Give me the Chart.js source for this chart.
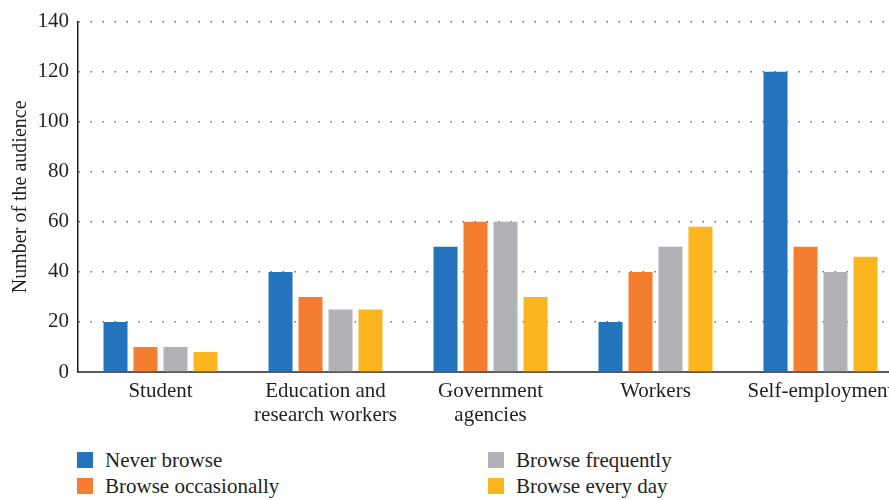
<html lang="en">
<head>
  <meta charset="utf-8">
  <script src="https://cdn.jsdelivr.net/npm/chart.js@4/dist/chart.umd.min.js"></script>
  <style>
    body { margin: 0; overflow: hidden; background: #fff; width: 889px; height: 500px; }
    #wrap { position: absolute; left: 0; top: 0; width: 903px; height: 432px; }
    .leg { position: absolute; font-family: "Liberation Serif", "Times New Roman", "DejaVu Serif", serif; font-size: 21px; color: #231f20; line-height: 20px; white-space: nowrap; }
    .leg span { position: absolute; left: 0; top: 0px; width: 16px; height: 16px; }
    .leg div { position: absolute; left: 28px; top: -2px; }
  </style>
</head>
<body>
  <div id="wrap"><canvas id="chart"></canvas></div>
  <div id="legend"></div>

<script>
  var categories = [
    'Student',
    ['Education and', 'research workers'],
    ['Government', 'agencies'],
    'Workers',
    'Self-employment'
  ];
  var seriesNames = ['Never browse', 'Browse occasionally', 'Browse frequently', 'Browse every day'];
  var seriesColors = ['#2473bd', '#f47d30', '#b1b2b5', '#fdb51f'];
  var neverBrowse = [20, 40, 50, 20, 120];
  var browseOccasionally = [10, 30, 60, 40, 50];
  var browseFrequently = [10, 25, 60, 50, 40];
  var browseEveryDay = [8, 25, 30, 58, 46];
  var yTicks = [0, 20, 40, 60, 80, 100, 120, 140];

  var seriesValues = [neverBrowse, browseOccasionally, browseFrequently, browseEveryDay];
  var fontFamily = '"Liberation Serif", "Times New Roman", "DejaVu Serif", serif';
  var textColor = '#231f20';

  // legend in two columns, column-major like the original
  var legendPos = [[77, 452], [77, 478], [488, 452], [488, 478]];
  var legendEl = document.getElementById('legend');
  seriesNames.forEach(function(name, i) {
    var item = document.createElement('div');
    item.className = 'leg';
    item.style.left = legendPos[i][0] + 'px';
    item.style.top = legendPos[i][1] + 'px';
    item.innerHTML = '<span style="background:' + seriesColors[i] + '"></span><div>' + name + '</div>';
    legendEl.appendChild(item);
  });

  new Chart(document.getElementById('chart'), {
    type: 'bar',
    data: {
      labels: categories,
      datasets: seriesNames.map(function(name, i) {
        return {
          label: name,
          data: seriesValues[i],
          backgroundColor: seriesColors[i],
          categoryPercentage: 0.727,
          barPercentage: 0.8
        };
      })
    },
    options: {
      responsive: true,
      maintainAspectRatio: false,
      animation: false,
      layout: { padding: { top: 9, right: 0, left: 0, bottom: 0 } },
      plugins: {
        legend: { display: false },
        tooltip: { enabled: false }
      },
      scales: {
        x: {
          grid: { display: false, drawTicks: false },
          border: { display: true, color: '#58595b', width: 2 },
          ticks: {
            color: textColor,
            padding: 7,
            maxRotation: 0,
            autoSkip: false,
            font: { family: fontFamily, size: 21, lineHeight: 1.15 }
          },
          afterFit: function(scale) { scale.height = 60; }
        },
        y: {
          min: 0,
          max: 140,
          afterBuildTicks: function(scale) {
            scale.ticks = yTicks.map(function(v) { return { value: v }; });
          },
          grid: {
            drawTicks: false,
            color: function(ctx) { return ctx.tick.value === 0 ? 'rgba(0,0,0,0)' : '#6d6e71'; },
            lineWidth: 1.5
          },
          border: { display: true, color: '#231f20', width: 1.5, dash: [1.5, 10.5] },
          ticks: {
            color: textColor,
            padding: 9,
            font: { family: fontFamily, size: 21 }
          },
          title: {
            display: true,
            text: 'Number of the audience',
            color: textColor,
            padding: { top: 9, bottom: 0 },
            font: { family: fontFamily, size: 20 }
          },
          afterFit: function(scale) { scale.width = 78; }
        }
      }
    }
  });
</script>
</body>
</html>
